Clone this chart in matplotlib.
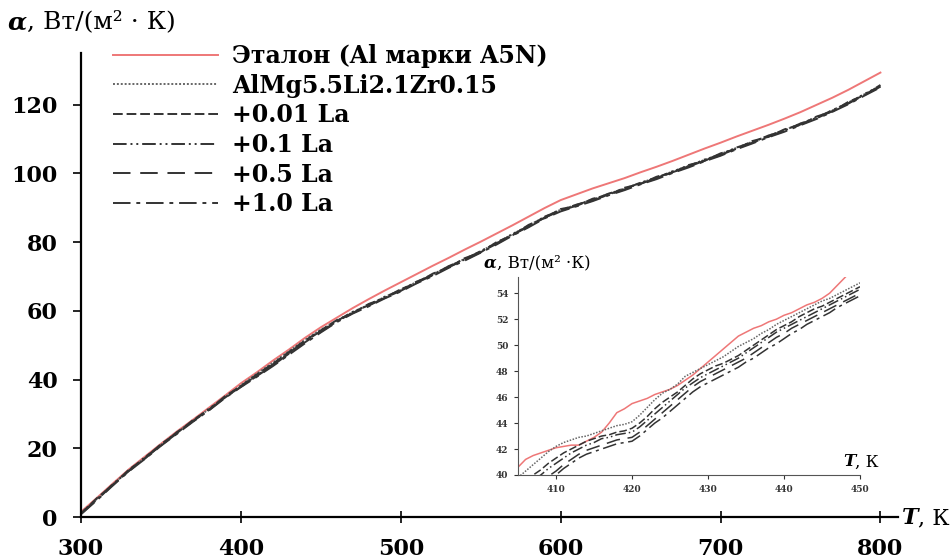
import matplotlib.pyplot as plt
import numpy as np

plt.rcParams['font.family'] = ['DejaVu Serif']

# main chart, T step 10 K
T = np.arange(300, 801, 10)

etalon = [1.5, 5.6, 9.8, 13.9, 17.6, 21.3, 24.9, 28.3, 31.8, 35.3,
          38.9, 42.1, 45.5, 48.7, 52.1, 55.2, 58.0, 60.8, 63.4, 65.9,
          68.3, 70.7, 73.1, 75.4, 77.8, 80.1, 82.5, 84.9, 87.4, 89.9,
          92.2, 93.9, 95.6, 97.1, 98.6, 100.3, 101.9, 103.6, 105.4, 107.2,
          108.9, 110.7, 112.4, 114.1, 115.9, 117.8, 119.9, 122.0, 124.3, 126.8,
          129.3]
base = [1.2, 5.3, 9.5, 13.6, 17.3, 21.0, 24.6, 28.0, 31.4, 34.9,
        38.3, 41.7, 44.9, 48.2, 51.5, 54.5, 57.1, 59.6, 61.8, 64.0,
        66.1, 68.4, 70.6, 72.9, 75.1, 77.3, 79.8, 82.3, 84.8, 87.3,
        89.4, 90.8, 92.4, 94.0, 95.6, 97.2, 98.8, 100.5, 102.2, 103.9,
        105.6, 107.4, 109.2, 110.9, 112.6, 114.4, 116.3, 118.3, 120.6, 123.0,
        125.5]
la001 = [1.0, 5.5, 9.3, 13.8, 17.1, 21.2, 24.4, 28.2, 31.2, 35.1,
         38.1, 41.5, 44.6, 48.0, 51.3, 54.3, 57.3, 59.3, 62.0, 63.7,
         66.3, 68.1, 70.8, 72.6, 75.3, 77.0, 80.0, 82.0, 85.0, 87.0,
         89.6, 90.5, 92.6, 93.7, 95.8, 96.9, 99.0, 100.2, 102.4, 103.6,
         105.8, 107.1, 109.4, 110.6, 112.8, 114.1, 116.5, 118.0, 120.8, 122.7,
         125.7]
la01 = [0.9, 5.1, 9.6, 13.4, 17.4, 20.8, 24.7, 27.8, 31.5, 34.7,
        38.0, 41.2, 44.4, 47.7, 51.1, 54.1, 57.0, 59.7, 61.6, 64.1,
        65.9, 68.5, 70.4, 73.0, 74.9, 77.4, 79.6, 82.4, 84.6, 87.4,
        89.2, 90.9, 92.2, 94.1, 95.4, 97.3, 98.6, 100.6, 102.0, 104.0,
        105.4, 107.5, 109.0, 111.0, 112.4, 114.5, 116.1, 118.4, 120.4, 123.1,
        125.3]
la05 = [1.1, 5.0, 9.4, 13.5, 17.0, 20.9, 24.3, 27.9, 31.1, 34.8,
        37.9, 41.0, 44.1, 47.5, 50.8, 53.9, 56.9, 59.4, 61.5, 63.8,
        65.8, 68.2, 70.3, 72.7, 74.8, 77.1, 79.5, 82.1, 84.5, 87.1,
        89.1, 90.6, 92.1, 93.8, 95.3, 97.0, 98.5, 100.3, 101.9, 103.7,
        105.3, 107.2, 108.9, 110.7, 112.3, 114.2, 116.0, 118.1, 120.3, 122.8,
        125.2]
la10 = [0.8, 4.9, 9.2, 13.3, 16.9, 20.7, 24.2, 27.7, 31.0, 34.6,
        37.8, 40.8, 43.9, 47.2, 50.5, 53.7, 56.7, 59.2, 61.3, 63.6,
        65.6, 68.0, 70.1, 72.5, 74.6, 76.9, 79.3, 81.9, 84.3, 86.9,
        88.9, 90.4, 91.9, 93.6, 95.1, 96.8, 98.3, 100.1, 101.7, 103.5,
        105.1, 107.0, 108.7, 110.5, 112.1, 114.0, 115.8, 117.9, 120.1, 122.6,
        125.0]

# inset, T step 1 K
Ti = np.arange(405, 451, 1)

etalon_i = [40.6, 41.2, 41.5, 41.7, 41.9, 42.1, 42.2, 42.3, 42.3, 42.6,
            42.9, 43.3, 44.0, 44.8, 45.1, 45.5, 45.7, 45.9, 46.2, 46.4,
            46.6, 46.9, 47.3, 47.7, 48.2, 48.7, 49.2, 49.7, 50.2, 50.7,
            51.0, 51.3, 51.5, 51.8, 52.0, 52.3, 52.5, 52.8, 53.1, 53.3,
            53.6, 54.0, 54.6, 55.2, 55.8, 56.3]
base_i = [39.8, 40.3, 40.8, 41.3, 41.8, 42.2, 42.5, 42.7, 42.9, 43.0,
          43.2, 43.4, 43.6, 43.8, 43.9, 44.1, 44.6, 45.2, 45.8, 46.3,
          46.6, 47.0, 47.6, 47.9, 48.2, 48.5, 48.8, 49.1, 49.5, 49.9,
          50.2, 50.5, 50.9, 51.2, 51.6, 51.9, 52.2, 52.5, 52.8, 53.1,
          53.4, 53.6, 53.9, 54.2, 54.5, 54.8]
la001_i = [39.0, 39.5, 40.0, 40.4, 40.9, 41.3, 41.7, 42.0, 42.3, 42.6,
           42.8, 43.0, 43.1, 43.3, 43.4, 43.6, 44.0, 44.5, 45.1, 45.6,
           46.0, 46.4, 46.9, 47.4, 47.8, 48.1, 48.4, 48.6, 48.9, 49.2,
           49.6, 50.0, 50.4, 50.8, 51.2, 51.5, 51.8, 52.2, 52.5, 52.8,
           53.0, 53.3, 53.6, 53.9, 54.2, 54.5]
la01_i = [38.6, 39.1, 39.6, 40.0, 40.5, 40.9, 41.3, 41.7, 42.0, 42.3,
          42.5, 42.8, 42.9, 43.1, 43.2, 43.3, 43.7, 44.2, 44.7, 45.2,
          45.7, 46.2, 46.7, 47.1, 47.5, 47.8, 48.1, 48.4, 48.7, 49.0,
          49.4, 49.8, 50.2, 50.6, 51.0, 51.3, 51.6, 51.9, 52.2, 52.5,
          52.8, 53.1, 53.4, 53.7, 54.0, 54.3]
la05_i = [38.0, 38.5, 39.0, 39.4, 39.9, 40.3, 40.8, 41.2, 41.6, 41.9,
          42.1, 42.3, 42.5, 42.7, 42.8, 42.9, 43.3, 43.8, 44.3, 44.8,
          45.3, 45.8, 46.3, 46.8, 47.2, 47.5, 47.8, 48.1, 48.4, 48.7,
          49.0, 49.4, 49.8, 50.2, 50.6, 50.9, 51.3, 51.6, 51.9, 52.2,
          52.5, 52.8, 53.1, 53.4, 53.7, 54.0]
la10_i = [37.6, 38.0, 38.5, 38.9, 39.5, 40.0, 40.5, 40.9, 41.3, 41.6,
          41.8, 42.0, 42.2, 42.4, 42.5, 42.6, 43.0, 43.5, 44.0, 44.4,
          44.9, 45.4, 45.9, 46.4, 46.8, 47.1, 47.4, 47.7, 48.0, 48.3,
          48.7, 49.0, 49.4, 49.8, 50.1, 50.5, 50.9, 51.2, 51.6, 51.9,
          52.2, 52.5, 52.9, 53.2, 53.5, 53.8]

labels = ['Эталон (Al марки A5N)', 'AlMg5.5Li2.1Zr0.15', '+0.01 La',
          '+0.1 La', '+0.5 La', '+1.0 La']
styles = ['-', (0, (1, 1)), (0, (5, 2)), (0, (7, 2, 1, 2, 1, 2)),
          (0, (9, 5)), (0, (9, 3, 2, 3))]
colors = ['#ee7777', '#666666', '#333333', '#333333', '#333333', '#333333']

main_series = [etalon, base, la001, la01, la05, la10]
inset_series = [etalon_i, base_i, la001_i, la01_i, la05_i, la10_i]

W, H = 953, 560
fig = plt.figure(figsize=(W / 100, H / 100), dpi=100)


def fx(px):
    return px / W


def fy(py):
    return 1 - py / H


def title_pair(x, y, size, sym, rest):
    # bold italic symbol followed by the regular unit text
    s = fig.text(fx(x), fy(y), sym, fontsize=size, fontweight='bold',
                 fontstyle='italic', va='center')
    bb = s.get_window_extent(renderer=fig.canvas.get_renderer())
    fig.text(bb.x1 / W, fy(y), rest, fontsize=size, va='center')


ax = fig.add_axes([fx(81), fy(517), fx(898) - fx(81), fy(53) - fy(517)])
for y, ls, c, lab in zip(main_series, styles, colors, labels):
    ax.plot(T, y, linestyle=ls, color=c, lw=1.4, label=lab)

ax.set_xlim(300, 811)
ax.set_ylim(0, 135)
ax.set_xticks([300, 400, 500, 600, 700, 800])
ax.set_yticks([0, 20, 40, 60, 80, 100, 120])
for s in ['top', 'right']:
    ax.spines[s].set_visible(False)
for s in ['left', 'bottom']:
    ax.spines[s].set_linewidth(1.6)
ax.tick_params(axis='y', direction='out', length=6, width=1.2, pad=11,
               labelsize=16)
ax.tick_params(axis='x', direction='inout', length=8, width=1.2, pad=11,
               labelsize=16)
for t in ax.get_xticklabels() + ax.get_yticklabels():
    t.set_fontweight('bold')

leg = ax.legend(loc='upper left', bbox_to_anchor=(fx(113), fy(44)),
                bbox_transform=fig.transFigure, frameon=False,
                prop={'size': 17, 'weight': 'bold'}, handlelength=4.45,
                handletextpad=0.6, labelspacing=0.24, borderpad=0,
                borderaxespad=0)

# axis titles
title_pair(8, 22, 18, 'α', ', Вт/(м² · К)')
title_pair(902, 518, 16, 'T', ', К')

# inset
axi = fig.add_axes([fx(518), fy(475), fx(860) - fx(518), fy(277) - fy(475)])
for y, ls, c in zip(inset_series, styles, colors):
    axi.plot(Ti, y, linestyle=ls, color=c, lw=1.1)
axi.set_xlim(405, 450)
axi.set_ylim(40, 55.25)
axi.set_xticks([410, 420, 430, 440, 450])
axi.set_yticks([40, 42, 44, 46, 48, 50, 52, 54])
for s in ['top', 'right']:
    axi.spines[s].set_visible(False)
for s in ['left', 'bottom']:
    axi.spines[s].set_color('#555555')
axi.tick_params(direction='out', length=3, width=0.8, pad=4, labelsize=6.5,
                colors='#333333')
for t in axi.get_xticklabels() + axi.get_yticklabels():
    t.set_fontweight('bold')
axi.patch.set_alpha(0)

title_pair(484, 263, 12, 'α', ', Вт/(м² ·К)')
title_pair(843, 462, 12, 'T', ', К')

fig.savefig('out.png', dpi=100)
